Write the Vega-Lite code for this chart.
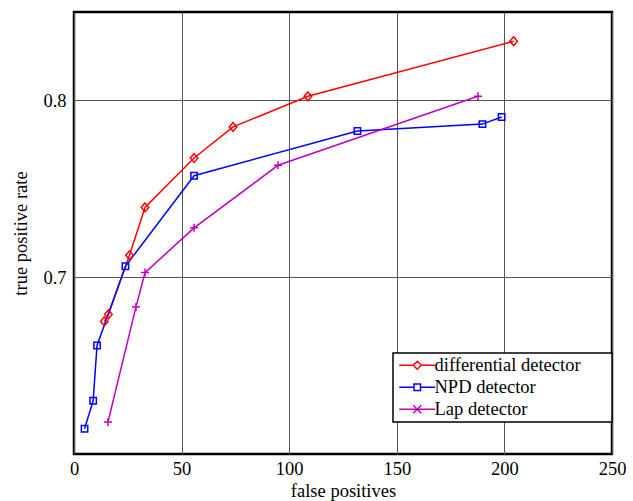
{
  "$schema": "https://vega.github.io/schema/vega-lite/v6.json",
  "width": 538,
  "height": 442,
  "autosize": {"type": "none"},
  "padding": {"left": 74, "top": 12, "right": 21, "bottom": 47},
  "background": "white",
  "config": {
    "font": "Liberation Serif",
    "view": {"stroke": "black", "strokeWidth": 2.5},
    "axis": {
      "labelFont": "Liberation Serif",
      "titleFont": "Liberation Serif",
      "labelFontSize": 18.5,
      "titleFontSize": 18.5,
      "titleFontWeight": "normal",
      "labelColor": "black",
      "titleColor": "black",
      "labelFlush": false,
      "domain": false,
      "ticks": false,
      "grid": true,
      "gridColor": "#555555",
      "gridWidth": 1,
      "gridOpacity": 1
    }
  },
  "data": {
    "values": [
      {"series": "differential detector", "fp": 14.1, "tpr": 0.675},
      {"series": "differential detector", "fp": 16.0, "tpr": 0.679},
      {"series": "differential detector", "fp": 25.8, "tpr": 0.7124},
      {"series": "differential detector", "fp": 33.0, "tpr": 0.7395},
      {"series": "differential detector", "fp": 55.8, "tpr": 0.7674},
      {"series": "differential detector", "fp": 73.9, "tpr": 0.785},
      {"series": "differential detector", "fp": 108.7, "tpr": 0.8023},
      {"series": "differential detector", "fp": 204.3, "tpr": 0.8335},
      {"series": "NPD detector", "fp": 4.9, "tpr": 0.6143},
      {"series": "NPD detector", "fp": 8.9, "tpr": 0.6301},
      {"series": "NPD detector", "fp": 10.7, "tpr": 0.6614},
      {"series": "NPD detector", "fp": 23.9, "tpr": 0.7062},
      {"series": "NPD detector", "fp": 55.8, "tpr": 0.7574},
      {"series": "NPD detector", "fp": 131.7, "tpr": 0.7827},
      {"series": "NPD detector", "fp": 189.8, "tpr": 0.7866},
      {"series": "NPD detector", "fp": 198.7, "tpr": 0.7906},
      {"series": "Lap detector", "fp": 15.8, "tpr": 0.6181},
      {"series": "Lap detector", "fp": 28.8, "tpr": 0.6832},
      {"series": "Lap detector", "fp": 33.0, "tpr": 0.7026},
      {"series": "Lap detector", "fp": 55.8, "tpr": 0.7279},
      {"series": "Lap detector", "fp": 94.8, "tpr": 0.7633},
      {"series": "Lap detector", "fp": 187.7, "tpr": 0.8023}
    ]
  },
  "encoding": {
    "x": {
      "field": "fp", "type": "quantitative",
      "scale": {"domain": [0, 250], "nice": false, "zero": false},
      "axis": {"values": [0, 50, 100, 150, 200, 250], "title": "false positives", "labelPadding": 5, "titlePadding": 4}
    },
    "y": {
      "field": "tpr", "type": "quantitative",
      "scale": {"domain": [0.6, 0.85], "nice": false, "zero": false},
      "axis": {"values": [0.7, 0.8], "format": ".1f", "title": "true positive rate", "labelPadding": 8, "titlePadding": 12}
    },
    "color": {
      "field": "series", "type": "nominal",
      "scale": {"domain": ["differential detector", "NPD detector", "Lap detector"], "range": ["#ff0000", "#0000ff", "#bf00bf"]},
      "legend": {
        "orient": "none",
        "legendX": 319,
        "legendY": 341,
        "title": null,
        "direction": "vertical",
        "strokeColor": "black",
        "fillColor": "white",
        "padding": 3,
        "rowPadding": 3,
        "labelFont": "Liberation Serif",
        "labelFontSize": 18.5,
        "labelColor": "black",
        "labelLimit": 400,
        "labelOffset": 20,
        "symbolSize": 100,
        "symbolStrokeWidth": 1.5,
        "encode": {
          "legend": {"update": {"strokeWidth": {"value": 1.5}}},
          "symbols": {
            "update": {
              "shape": {"signal": "datum.value === 'differential detector' ? 'M-1.2,0H1.6M3.2,0H6M2.4,-0.8L3.2,0L2.4,0.8L1.6,0ZM40,0L40,0' : datum.value === 'NPD detector' ? 'M-1.2,0H1.75M3.05,0H6M1.75,-0.65H3.05V0.65H1.75ZM40,0L40,0' : 'M-1.2,0H6M1.6,-0.8L3.2,0.8M1.6,0.8L3.2,-0.8M40,0L40,0'"},
              "size": {"value": 100},
              "strokeWidth": {"value": 1.5},
              "strokeCap": {"value": "butt"},
              "fill": {"value": "transparent"}
            }
          }
        }
      }
    }
  },
  "layer": [
    {
      "mark": {"type": "line", "strokeWidth": 1.5}
    },
    {
      "transform": [{"filter": "datum.series === 'differential detector'"}],
      "mark": {"type": "point", "filled": false, "strokeWidth": 1.5, "size": 64, "opacity": 1, "shape": "M0,-1.1L0.95,0L0,1.1L-0.95,0Z"}
    },
    {
      "transform": [{"filter": "datum.series === 'NPD detector'"}],
      "mark": {"type": "point", "filled": false, "strokeWidth": 1.5, "size": 64, "opacity": 1, "shape": "M-0.8,-0.8H0.8V0.8H-0.8Z"}
    },
    {
      "transform": [{"filter": "datum.series === 'Lap detector'"}],
      "mark": {"type": "point", "filled": false, "strokeWidth": 1.5, "size": 64, "opacity": 1, "shape": "M-1,0H1M0,-1V1"}
    }
  ]
}
